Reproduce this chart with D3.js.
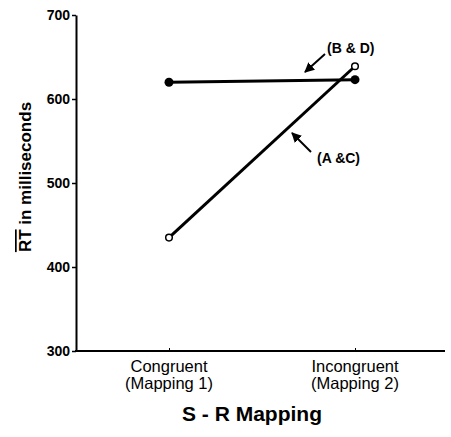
<!DOCTYPE html>
<html>
<head>
<meta charset="utf-8">
<script src="https://cdn.jsdelivr.net/npm/d3@7"></script>
<style>
  body { margin: 0; background: #fff; }
  text { font-family: "Liberation Sans", Arial, Helvetica, sans-serif; fill: #000; }
</style>
</head>
<body>
<script>
const w = 451; // SVG width
const h = 437; // SVG height

// data
const categories = ["Congruent", "Incongruent"];
const categoryNotes = ["(Mapping 1)", "(Mapping 2)"];
const seriesBD = [620, 623]; // filled dots
const seriesAC = [435, 639]; // open dots
const yTicks = [300, 400, 500, 600, 700];

const svg = d3.select("body").append("svg")
  .attr("width", w)
  .attr("height", h);

const xScale = d3.scalePoint()
  .domain(categories)
  .range([76, 448])
  .padding(0.5);

const yScale = d3.scaleLinear()
  .domain([300, 700])
  .range([351, 15]);

// y axis
const yAxis = d3.axisLeft(yScale).tickValues(yTicks).tickSize(4).tickSizeOuter(0);
const gy = svg.append("g")
  .attr("transform", "translate(76,0)")
  .call(yAxis);
gy.select(".domain").attr("stroke-width", 2);
gy.selectAll(".tick line").attr("stroke-width", 1.5);
gy.selectAll(".tick text")
  .attr("x", -6)
  .style("font-size", "14px")
  .style("font-weight", "bold")
  .attr("font-family", null);

// x axis
const xAxis = d3.axisBottom(xScale).tickSize(-3).tickSizeOuter(0).tickFormat("");
const gx = svg.append("g")
  .attr("transform", "translate(0,351)")
  .call(xAxis);
gx.select(".domain").attr("stroke-width", 2).attr("d", "M75,0H445");

// category labels, two lines each
const lab = svg.append("g");
categories.forEach((c, i) => {
  const t = lab.append("text")
    .attr("x", xScale(c))
    .attr("y", 372)
    .attr("text-anchor", "middle")
    .style("font-size", "16.5px");
  t.append("tspan").attr("x", xScale(c)).text(c);
  t.append("tspan").attr("x", xScale(c)).attr("dy", 17).text(categoryNotes[i]);
});

// axis titles
svg.append("text")
  .attr("x", 252)
  .attr("y", 421)
  .attr("text-anchor", "middle")
  .style("font-size", "21px")
  .style("font-weight", "bold")
  .text("S - R Mapping");

const yt = svg.append("text")
  .attr("transform", "translate(31,177) rotate(-90)")
  .attr("text-anchor", "middle")
  .style("font-size", "17px")
  .style("font-weight", "bold");
yt.append("tspan").style("text-decoration", "overline").text("RT");
yt.append("tspan").text(" in milliseconds");

// lines
const line = d3.line()
  .x((d, i) => xScale(categories[i]))
  .y(d => yScale(d));

svg.append("path")
  .datum(seriesBD)
  .attr("d", line)
  .attr("fill", "none")
  .attr("stroke", "#000")
  .attr("stroke-width", 3);

svg.append("path")
  .datum(seriesAC)
  .attr("d", line)
  .attr("fill", "none")
  .attr("stroke", "#000")
  .attr("stroke-width", 3);

svg.selectAll(".dotBD")
  .data(seriesBD)
  .enter()
  .append("circle")
  .attr("class", "dotBD")
  .attr("cx", (d, i) => xScale(categories[i]))
  .attr("cy", d => yScale(d))
  .attr("r", 4.5)
  .attr("fill", "#000");

svg.selectAll(".dotAC")
  .data(seriesAC)
  .enter()
  .append("circle")
  .attr("class", "dotAC")
  .attr("cx", (d, i) => xScale(categories[i]))
  .attr("cy", d => yScale(d))
  .attr("r", 3.3)
  .attr("fill", "#fff")
  .attr("stroke", "#000")
  .attr("stroke-width", 1.5);

// arrow annotations
svg.append("defs").append("marker")
  .attr("id", "head")
  .attr("viewBox", "0 0 10 10")
  .attr("refX", 9).attr("refY", 5)
  .attr("markerWidth", 5).attr("markerHeight", 5)
  .attr("orient", "auto")
  .append("path")
  .attr("d", "M0,0L10,5L0,10Z")
  .attr("fill", "#000");

svg.append("line")
  .attr("x1", 325).attr("y1", 54)
  .attr("x2", 305).attr("y2", 72)
  .attr("stroke", "#000").attr("stroke-width", 2)
  .attr("marker-end", "url(#head)");

svg.append("line")
  .attr("x1", 311).attr("y1", 152)
  .attr("x2", 292).attr("y2", 133)
  .attr("stroke", "#000").attr("stroke-width", 2)
  .attr("marker-end", "url(#head)");

svg.append("text")
  .attr("x", 327).attr("y", 53)
  .style("font-size", "14px")
  .style("font-weight", "bold")
  .text("(B & D)");

svg.append("text")
  .attr("x", 317).attr("y", 163)
  .style("font-size", "14px")
  .style("font-weight", "bold")
  .text("(A &C)");
</script>
</body>
</html>
